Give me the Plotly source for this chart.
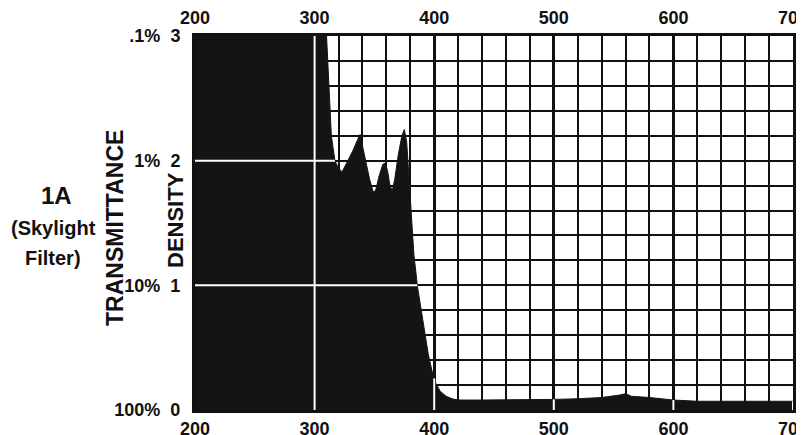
import numpy as np
import plotly.graph_objects as go

# Wavelength (nm) and optical density
wavelength = [200, 250, 300, 310, 312, 314, 317, 320, 323, 327, 332, 336, 338, 340, 343,
              346, 349, 351, 354, 357, 359, 361, 363, 365, 367, 370, 373, 375, 377, 379,
              381, 383, 386, 389, 392, 395, 398, 401, 405, 410, 415, 420, 440, 480, 500,
              520, 540, 555, 560, 565, 580, 600, 620, 650, 700]
density = [3.0, 3.0, 3.0, 3.0, 2.6, 2.2, 2.0, 1.94, 1.91, 1.98, 2.08, 2.17, 2.21, 2.12, 1.98,
           1.85, 1.75, 1.76, 1.88, 1.97, 1.98, 1.92, 1.80, 1.76, 1.85, 2.05, 2.20, 2.25, 2.15, 1.85,
           1.55, 1.25, 0.99, 0.80, 0.62, 0.45, 0.32, 0.22, 0.15, 0.11, 0.09, 0.08, 0.08, 0.08, 0.085,
           0.09, 0.10, 0.12, 0.13, 0.11, 0.10, 0.08, 0.07, 0.07, 0.07]

x_ticks = [200, 300, 400, 500, 600, 700]
y_ticks = [0, 1, 2, 3]
y_ticklabels = ["100%\u00a0\u00a00", "10%\u00a0\u00a01", "1%\u00a0\u00a02", ".1%\u00a0\u00a03"]

wl = np.array(wavelength, dtype=float)
dn = np.array(density, dtype=float)

# White major grid lines visible inside the black (absorbing) region
wx, wy = [], []
for xv in x_ticks[1:]:
    top = float(np.interp(xv, wl, dn))
    wx += [xv, xv, None]
    wy += [0, top, None]
for yv in y_ticks[1:3]:
    idx = int(np.argmax(dn < yv))
    x0, x1, d0, d1 = wl[idx - 1], wl[idx], dn[idx - 1], dn[idx]
    xc = x0 + (d0 - yv) * (x1 - x0) / (d0 - d1)
    wx += [wl[0], xc, None]
    wy += [yv, yv, None]

FONT = "Liberation Sans"

fig = go.Figure()
fig.add_trace(go.Scatter(x=wavelength, y=density, mode="lines", fill="tozeroy",
                         fillcolor="#141414", line=dict(color="#141414", width=1),
                         hoverinfo="skip", showlegend=False))
fig.add_trace(go.Scatter(x=wx, y=wy, mode="lines", xaxis="x2",
                         line=dict(color="white", width=2),
                         hoverinfo="skip", showlegend=False))

tickfont = dict(family=FONT, size=18, color="#111", weight="bold")

# The page body has an 8px default margin, so the figure is drawn 8px in
# from the window's top-left corner; size it to fit the 804x435 window.
fig.update_layout(
    width=796, height=427,
    margin=dict(l=187, r=11, t=28, b=25, autoexpand=False),
    paper_bgcolor="white", plot_bgcolor="white",
    xaxis=dict(range=[200, 700], tickmode="array", tickvals=x_ticks,
               showgrid=True, gridcolor="#111", gridwidth=3,
               minor=dict(dtick=20, tick0=200, showgrid=True, gridcolor="#111", gridwidth=2),
               showline=True, linecolor="#111", linewidth=3, automargin=False,
               ticklabeloverflow="allow",
               ticks="", ticklabelstandoff=0, tickfont=tickfont, zeroline=False),
    xaxis2=dict(range=[200, 700], overlaying="x", side="top", matches="x",
                tickmode="array", tickvals=x_ticks, showgrid=False,
                showline=True, linecolor="#111", linewidth=3, automargin=False,
                ticklabeloverflow="allow",
                ticks="", ticklabelstandoff=2, tickfont=tickfont, zeroline=False),
    yaxis=dict(range=[0, 3], tickmode="array", tickvals=y_ticks, ticktext=y_ticklabels,
               showgrid=True, gridcolor="#111", gridwidth=2,
               minor=dict(dtick=0.2, tick0=0, showgrid=True, gridcolor="#111", gridwidth=2),
               showline=True, mirror=True, linecolor="#111", linewidth=3, automargin=False,
               ticklabeloverflow="allow",
               ticks="", ticklabelstandoff=8, tickfont=tickfont, zeroline=False),
    font=dict(family=FONT, color="#111"),
)

def px_to_paper(px):
    return (px - 195) / 598.0

def py_to_paper(py):
    return (410 - py) / 374.0

anns = [
    dict(text="1A", x=px_to_paper(56), y=py_to_paper(195), size=24, angle=0),
    dict(text="(Skylight", x=px_to_paper(53), y=py_to_paper(228), size=20, angle=0),
    dict(text="Filter)", x=px_to_paper(53), y=py_to_paper(258), size=20, angle=0),
    dict(text="TRANSMITTANCE", x=px_to_paper(115), y=py_to_paper(228), size=23, angle=-90),
    dict(text="DENSITY", x=px_to_paper(175), y=py_to_paper(220), size=22, angle=-90),
]
for a in anns:
    fig.add_annotation(text=a["text"], xref="paper", yref="paper", x=a["x"], y=a["y"],
                       xanchor="center", yanchor="middle", showarrow=False,
                       textangle=a["angle"],
                       font=dict(family=FONT, size=a["size"], color="#111", weight="bold"))

fig.write_html("out.html")
